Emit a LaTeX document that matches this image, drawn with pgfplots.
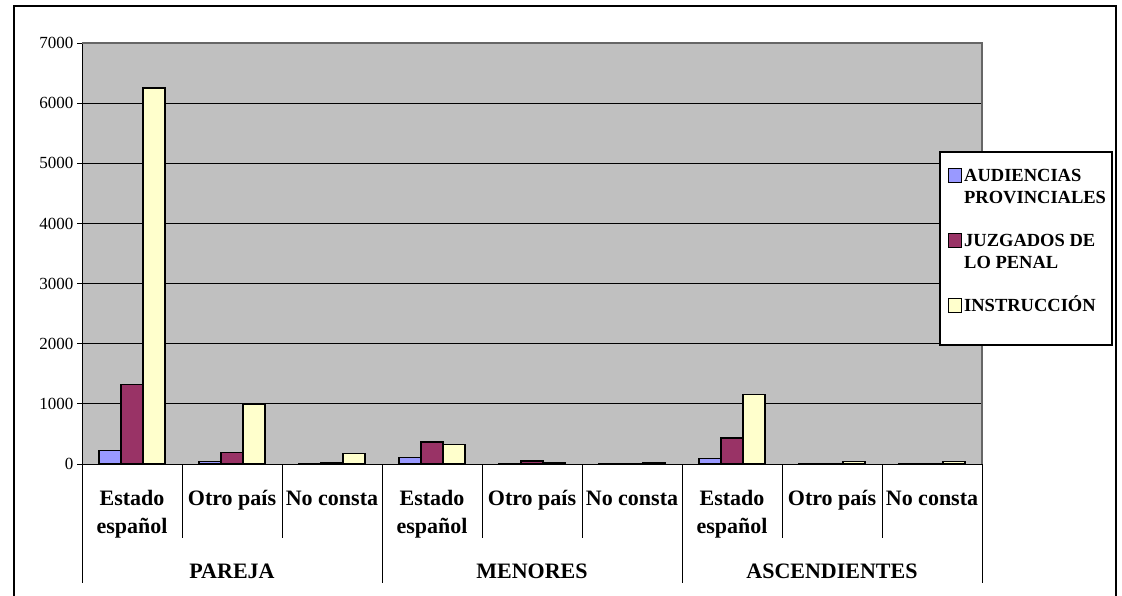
\documentclass[border=0pt]{standalone}
\usepackage{pgfplots}
\pgfplotsset{compat=1.18}
\usepackage{fontspec}
\setmainfont{Liberation Serif}
\definecolor{plotgray}{RGB}{192,192,192}
\definecolor{audc}{RGB}{153,153,255}
\definecolor{juzc}{RGB}{153,51,102}
\definecolor{insc}{RGB}{255,255,204}
\newcommand{\catfont}{\fontsize{22}{28}\selectfont\bfseries}
\newcommand{\legfont}{\fontsize{18.5}{21.5}\selectfont\bfseries}
\pgfplotsset{sqleg/.style={legend image code/.code={\draw[##1,line width=1pt] (0pt,-5.5pt) rectangle (13pt,8.5pt);}}}
\begin{document}
\begin{tikzpicture}
\useasboundingbox (0,0) rectangle (1122pt,595pt);
\draw[line width=1.2pt] (14pt,-5pt) -- (14pt,589pt) -- (1116pt,589pt) -- (1116pt,-5pt);
\begin{axis}[
 at={(82pt,131pt)}, anchor=south west, width=900pt, height=421pt, scale only axis,
 xmin=-0.5, xmax=8.5, ymin=0, ymax=7000,
 axis x line*=bottom, axis y line*=left,
 axis line style={black, line width=1pt},
 ybar=0pt, bar width=22pt,
 axis background/.style={fill=plotgray},
 xtick=\empty,
 ytick={0,1000,...,7000},
 ymajorgrids, grid style={black, line width=1pt},
 tick align=outside, major tick length=5pt, tick style={black, line width=1pt},
 yticklabel style={font=\fontsize{17}{17}\selectfont},
 /pgf/number format/assume math mode=true,
 scaled y ticks=false, yticklabel style={/pgf/number format/1000 sep={}},
 clip=false,
 legend cell align=left,
 legend style={at={(rel axis cs:0.9622,0.7031)}, anchor=north west, draw=none, fill=none, inner sep=0pt, column sep=2pt, row sep=4.5pt, font=\legfont, nodes={inner sep=0pt, text height=13pt, text depth=4pt}},
]
\draw[gray!80!black, line width=1.5pt] (rel axis cs:0,1) -- (rel axis cs:1,1) -- (rel axis cs:1,0);
\addplot[fill=audc, draw=black, line width=1.3pt, bar shift=-22pt, sqleg] coordinates {(0,220) (1,45) (2,8) (3,110) (4,10) (5,5) (6,90) (7,5) (8,2)};
\addlegendentry{AUDIENCIAS}
\addlegendimage{empty legend}\addlegendentry{PROVINCIALES}
\addlegendimage{empty legend}\addlegendentry{\mbox{}}
\addplot[fill=juzc, draw=black, line width=1.3pt, bar shift=0pt, sqleg] coordinates {(0,1320) (1,195) (2,30) (3,365) (4,50) (5,8) (6,430) (7,8) (8,12)};
\addlegendentry{JUZGADOS DE}
\addlegendimage{empty legend}\addlegendentry{LO PENAL}
\addlegendimage{empty legend}\addlegendentry{\mbox{}}
\addplot[fill=insc, draw=black, line width=1.3pt, bar shift=22pt, sqleg] coordinates {(0,6250) (1,1000) (2,170) (3,320) (4,15) (5,28) (6,1160) (7,45) (8,38)};
\addlegendentry{INSTRUCCIÓN}
\draw[black, line width=1.2pt, fill=white] (rel axis cs:0.9533,0.7411) rectangle (rel axis cs:1.1444,0.2827);
\pgfplotsinvokeforeach{0.5,1.5,3.5,4.5,6.5,7.5}{\draw[black, line width=1pt] (axis cs:#1,0) -- ++(0pt,-74pt);}
\pgfplotsinvokeforeach{-0.5,2.5,5.5,8.5}{\draw[black, line width=1pt] (axis cs:#1,0) -- ++(0pt,-119pt);}
\pgfplotsinvokeforeach{0,3,6}{
  \node[font=\catfont, anchor=base, inner sep=0pt, yshift=-41pt] at (axis cs:#1,0) {Estado};
  \node[font=\catfont, anchor=base, inner sep=0pt, yshift=-69pt] at (axis cs:#1,0) {español};
}
\pgfplotsinvokeforeach{1,4,7}{
  \node[font=\catfont, anchor=base, inner sep=0pt, yshift=-41pt] at (axis cs:#1,0) {Otro país};
}
\pgfplotsinvokeforeach{2,5,8}{
  \node[font=\catfont, anchor=base, inner sep=0pt, yshift=-41pt] at (axis cs:#1,0) {No consta};
}
\node[font=\catfont, anchor=base, inner sep=0pt, yshift=-114pt] at (axis cs:1,0) {PAREJA};
\node[font=\catfont, anchor=base, inner sep=0pt, yshift=-114pt] at (axis cs:4,0) {MENORES};
\node[font=\catfont, anchor=base, inner sep=0pt, yshift=-114pt] at (axis cs:7,0) {ASCENDIENTES};
\end{axis}
\end{tikzpicture}
\end{document}
